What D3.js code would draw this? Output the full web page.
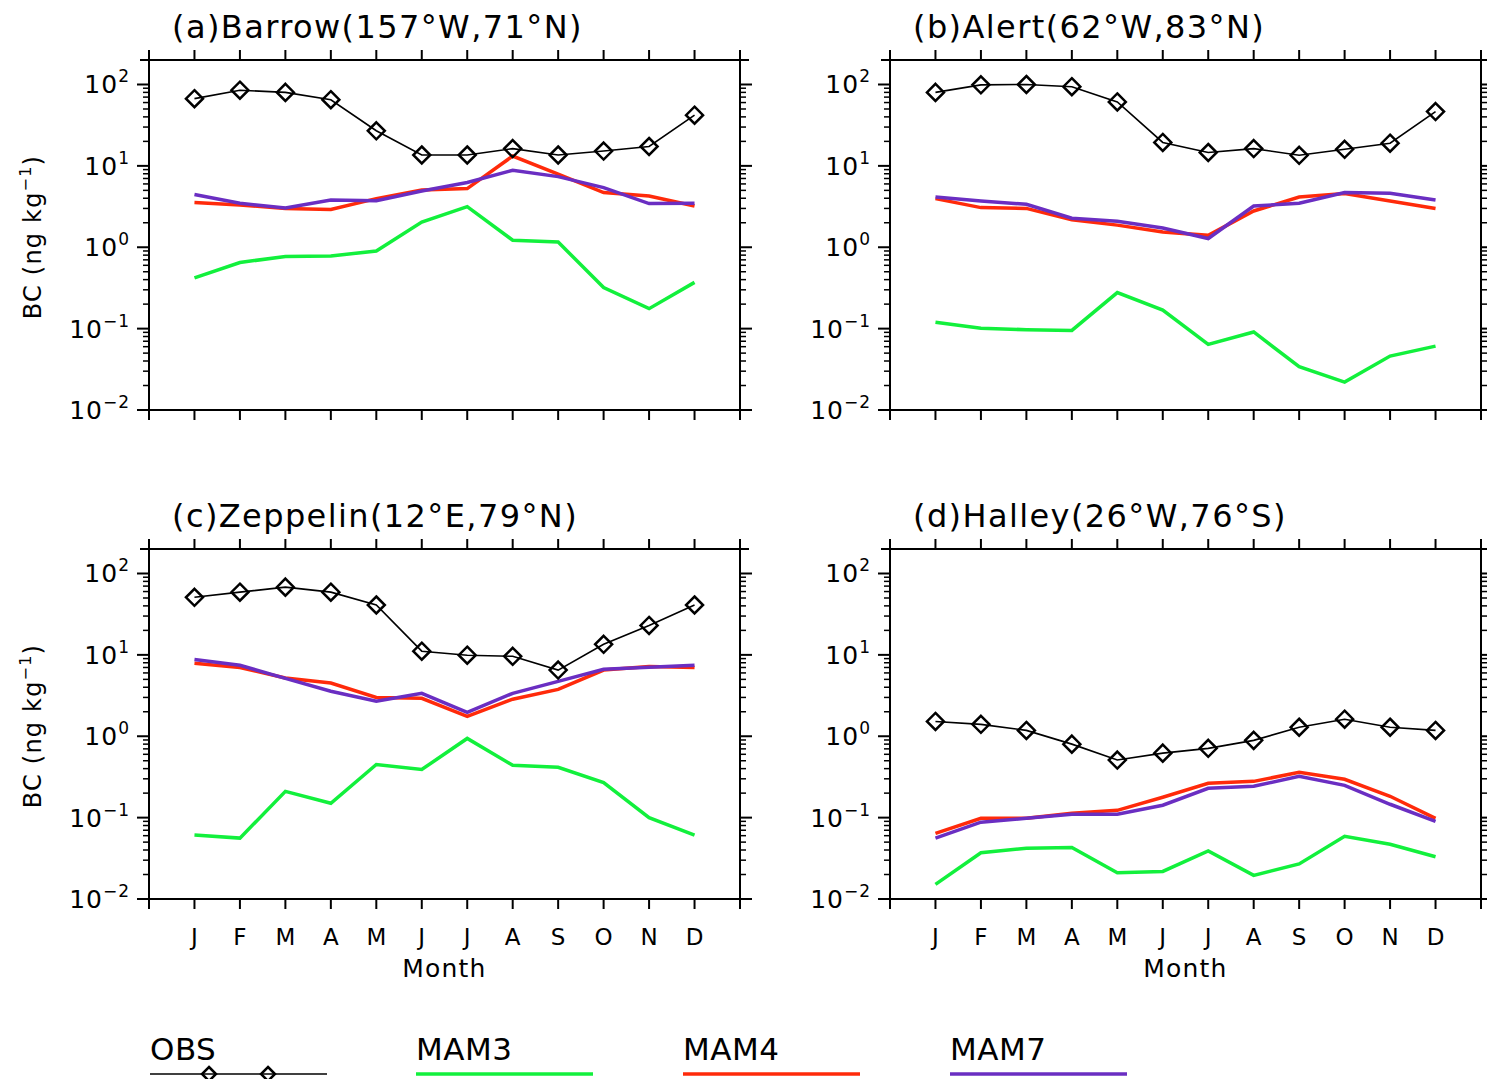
<!DOCTYPE html>
<html>
<head>
<meta charset="utf-8">
<script src="https://cdn.jsdelivr.net/npm/d3@7"></script>
<style>
  body { margin: 0; background: #fff; }
  svg { display: block; font-family: "DejaVu Sans", sans-serif; }
</style>
</head>
<body>
<div id="chart"></div>
<script>
(function() {

  // month labels on the x axis
  const months = ['J', 'F', 'M', 'A', 'M', 'J', 'J', 'A', 'S', 'O', 'N', 'D'];

  // (a) Barrow
  const barrowObs  = [67, 85, 80, 65, 27, 13.6, 13.6, 16.3, 13.6, 15.2, 17.3, 42];
  const barrowMam3 = [0.42, 0.65, 0.77, 0.78, 0.90, 2.04, 3.16, 1.22, 1.16, 0.32, 0.176, 0.37];
  const barrowMam4 = [3.54, 3.30, 3.0, 2.92, 3.96, 5.06, 5.26, 13.2, 7.9, 4.7, 4.27, 3.21];
  const barrowMam7 = [4.44, 3.47, 3.03, 3.81, 3.74, 4.91, 6.24, 8.83, 7.38, 5.41, 3.44, 3.47];

  // (b) Alert
  const alertObs  = [80, 99, 100, 94, 61, 19.4, 14.6, 16.3, 13.5, 16, 19, 46.5];
  const alertMam3 = [0.120, 0.101, 0.097, 0.095, 0.277, 0.169, 0.064, 0.091, 0.034, 0.022, 0.046, 0.061];
  const alertMam4 = [3.96, 3.07, 3.0, 2.18, 1.87, 1.54, 1.40, 2.79, 4.14, 4.56, 3.70, 3.0];
  const alertMam7 = [4.14, 3.70, 3.37, 2.27, 2.08, 1.72, 1.28, 3.21, 3.47, 4.70, 4.61, 3.81];

  // (c) Zeppelin
  const zeppelinObs  = [51, 59, 68, 59, 41, 11.1, 9.9, 9.6, 6.5, 13.5, 23, 41];
  const zeppelinMam3 = [0.061, 0.056, 0.21, 0.15, 0.45, 0.39, 0.94, 0.44, 0.415, 0.27, 0.10, 0.061];
  const zeppelinMam4 = [7.9, 7.0, 5.2, 4.5, 3.0, 2.93, 1.76, 2.85, 3.77, 6.5, 7.2, 7.0];
  const zeppelinMam7 = [8.8, 7.45, 5.15, 3.57, 2.69, 3.37, 1.97, 3.37, 4.73, 6.65, 7.05, 7.45];

  // (d) Halley
  const halleyObs  = [1.52, 1.40, 1.18, 0.80, 0.51, 0.62, 0.71, 0.89, 1.29, 1.62, 1.29, 1.18];
  const halleyMam3 = [0.0151, 0.037, 0.042, 0.043, 0.021, 0.0218, 0.039, 0.0195, 0.027, 0.059, 0.047, 0.033];
  const halleyMam4 = [0.064, 0.098, 0.098, 0.113, 0.123, 0.178, 0.264, 0.279, 0.36, 0.296, 0.183, 0.098];
  const halleyMam7 = [0.056, 0.088, 0.098, 0.110, 0.110, 0.142, 0.229, 0.243, 0.322, 0.249, 0.146, 0.090];

  const seriesNames = ['OBS', 'MAM3', 'MAM4', 'MAM7'];
  const seriesColors = {OBS: '#000000', MAM3: '#12f03c', MAM4: '#ff2a0a', MAM7: '#6a2ec2'};

  const yTickValues = [1e-2, 1e-1, 1e0, 1e1, 1e2];
  const yExponents = ['\u22122', '\u22121', '0', '1', '2'];

  const panels = [
    {title: '(a)Barrow(157\u00b0W,71\u00b0N)', x: 149, y: 60, left: true, bottom: false,
     data: {OBS: barrowObs, MAM3: barrowMam3, MAM4: barrowMam4, MAM7: barrowMam7}},
    {title: '(b)Alert(62\u00b0W,83\u00b0N)', x: 890, y: 60, left: false, bottom: false,
     data: {OBS: alertObs, MAM3: alertMam3, MAM4: alertMam4, MAM7: alertMam7}},
    {title: '(c)Zeppelin(12\u00b0E,79\u00b0N)', x: 149, y: 549, left: true, bottom: true,
     data: {OBS: zeppelinObs, MAM3: zeppelinMam3, MAM4: zeppelinMam4, MAM7: zeppelinMam7}},
    {title: '(d)Halley(26\u00b0W,76\u00b0S)', x: 890, y: 549, left: false, bottom: true,
     data: {OBS: halleyObs, MAM3: halleyMam3, MAM4: halleyMam4, MAM7: halleyMam7}}
  ];

  const plotSize = {x: 591, y: 350};

  const svg = d3.select('#chart')
    .append('svg')
    .attr('width', 1487)
    .attr('height', 1079);

  const diamond = s => `M0,${-s}L${s},0L0,${s}L${-s},0Z`;

  panels.forEach(p => {
    const g = svg.append('g')
      .attr('transform', `translate(${p.x}, ${p.y})`);

    const xScale = d3.scaleLinear()
      .domain([0, 13])
      .range([0, plotSize.x]);

    const yScale = d3.scaleLog()
      .domain([0.01, 200])
      .range([plotSize.y, 0]);

    // minor ticks 2..9 per decade
    let minor = [];
    for (let e = -2; e <= 2; e++) {
      for (let m = 2; m <= 9; m++) {
        const v = m * Math.pow(10, e);
        if (v <= 200) minor.push(v);
      }
    }

    // frame, lines run a bit past the corners
    const ext = 9;
    const frame = [
      [-ext, 0, plotSize.x + ext, 0],
      [-ext, plotSize.y, plotSize.x + ext, plotSize.y],
      [0, -ext, 0, plotSize.y + ext],
      [plotSize.x, -ext, plotSize.x, plotSize.y + ext]
    ];
    g.selectAll('.frame')
      .data(frame)
      .enter()
      .append('line')
        .attr('x1', d => d[0]).attr('y1', d => d[1])
        .attr('x2', d => d[2]).attr('y2', d => d[3])
        .attr('stroke', '#000')
        .attr('stroke-width', 2);

    // x ticks top and bottom
    const xTicks = d3.range(0, 14);
    g.selectAll('.xtick-b')
      .data(xTicks)
      .enter()
      .append('line')
        .attr('x1', d => xScale(d)).attr('x2', d => xScale(d))
        .attr('y1', plotSize.y).attr('y2', plotSize.y + 10)
        .attr('stroke', '#000').attr('stroke-width', 2);
    g.selectAll('.xtick-t')
      .data(xTicks)
      .enter()
      .append('line')
        .attr('x1', d => xScale(d)).attr('x2', d => xScale(d))
        .attr('y1', 0).attr('y2', -10)
        .attr('stroke', '#000').attr('stroke-width', 2);

    // y ticks left and right
    [[0, -1], [plotSize.x, 1]].forEach(side => {
      g.selectAll(null)
        .data(yTickValues)
        .enter()
        .append('line')
          .attr('x1', side[0]).attr('x2', side[0] + side[1] * 12)
          .attr('y1', d => yScale(d)).attr('y2', d => yScale(d))
          .attr('stroke', '#000').attr('stroke-width', 2);
      g.selectAll(null)
        .data(minor)
        .enter()
        .append('line')
          .attr('x1', side[0]).attr('x2', side[0] + side[1] * 6)
          .attr('y1', d => yScale(d)).attr('y2', d => yScale(d))
          .attr('stroke', '#000').attr('stroke-width', 1.5);
    });

    // y tick labels
    const lab = g.selectAll('.ylab')
      .data(yTickValues)
      .enter()
      .append('text')
        .attr('x', -19)
        .attr('y', d => yScale(d) + 9)
        .attr('text-anchor', 'end')
        .style('font-size', '25px')
        .style('letter-spacing', '1px');
    lab.append('tspan').text('10');
    lab.append('tspan')
      .attr('dy', -11)
      .style('font-size', '17px')
      .text((d, i) => yExponents[i]);

    // title
    g.append('text')
      .attr('x', 23)
      .attr('y', -22)
      .style('font-size', '32px')
      .style('letter-spacing', '1.4px')
      .text(p.title);

    // y axis title
    if (p.left) {
      const yt = g.append('text')
        .attr('transform', `translate(${-108}, ${plotSize.y / 2 + 2}) rotate(-90)`)
        .attr('text-anchor', 'middle')
        .style('font-size', '24px')
        .style('letter-spacing', '1.2px');
      yt.append('tspan').text('BC (ng kg');
      yt.append('tspan').attr('dy', -10).style('font-size', '16px').text('\u22121');
      yt.append('tspan').attr('dy', 10).text(')');
    }

    // month labels on bottom panels
    if (p.bottom) {
      g.selectAll('.mlab')
        .data(months)
        .enter()
        .append('text')
          .attr('x', (d, i) => xScale(i + 1))
          .attr('y', plotSize.y + 46)
          .attr('text-anchor', 'middle')
          .style('font-size', '23px')
          .text(d => d);
      g.append('text')
        .attr('x', plotSize.x / 2)
        .attr('y', plotSize.y + 78)
        .attr('text-anchor', 'middle')
        .style('font-size', '25px')
        .style('letter-spacing', '1.2px')
        .text('Month');
    }

    const valueLine = d3.line()
      .x((d, i) => xScale(i + 1))
      .y(d => yScale(d));

    // model lines first, then obs on top
    ['MAM3', 'MAM4', 'MAM7'].forEach(name => {
      g.append('path')
        .datum(p.data[name])
        .attr('d', valueLine)
        .attr('fill', 'none')
        .attr('stroke', seriesColors[name])
        .attr('stroke-width', 3.5)
        .attr('stroke-linejoin', 'miter');
    });

    g.append('path')
      .datum(p.data.OBS)
      .attr('d', valueLine)
      .attr('fill', 'none')
      .attr('stroke', '#000')
      .attr('stroke-width', 1.6);

    g.selectAll('.obs-marker')
      .data(p.data.OBS)
      .enter()
      .append('path')
        .attr('transform', (d, i) => `translate(${xScale(i + 1)}, ${yScale(d)})`)
        .attr('d', diamond(8.5))
        .attr('fill', 'none')
        .attr('stroke', '#000')
        .attr('stroke-width', 2.5);
  });

  // legend
  const legendX = [150, 416, 683, 950];
  const legend = svg.append('g');
  seriesNames.forEach((name, i) => {
    legend.append('text')
      .attr('x', legendX[i])
      .attr('y', 1060)
      .style('font-size', '31px')
      .style('letter-spacing', '0.5px')
      .text(name);
    legend.append('line')
      .attr('x1', legendX[i]).attr('x2', legendX[i] + 177)
      .attr('y1', 1074).attr('y2', 1074)
      .attr('stroke', seriesColors[name])
      .attr('stroke-width', name == 'OBS' ? 1.5 : 3.5);
    if (name == 'OBS') {
      legend.selectAll('.leg-marker')
        .data([59, 118])
        .enter()
        .append('path')
          .attr('transform', d => `translate(${legendX[i] + d}, 1074)`)
          .attr('d', diamond(7))
          .attr('fill', 'none')
          .attr('stroke', '#000')
          .attr('stroke-width', 2.5);
    }
  });
}());
</script>
</body>
</html>
